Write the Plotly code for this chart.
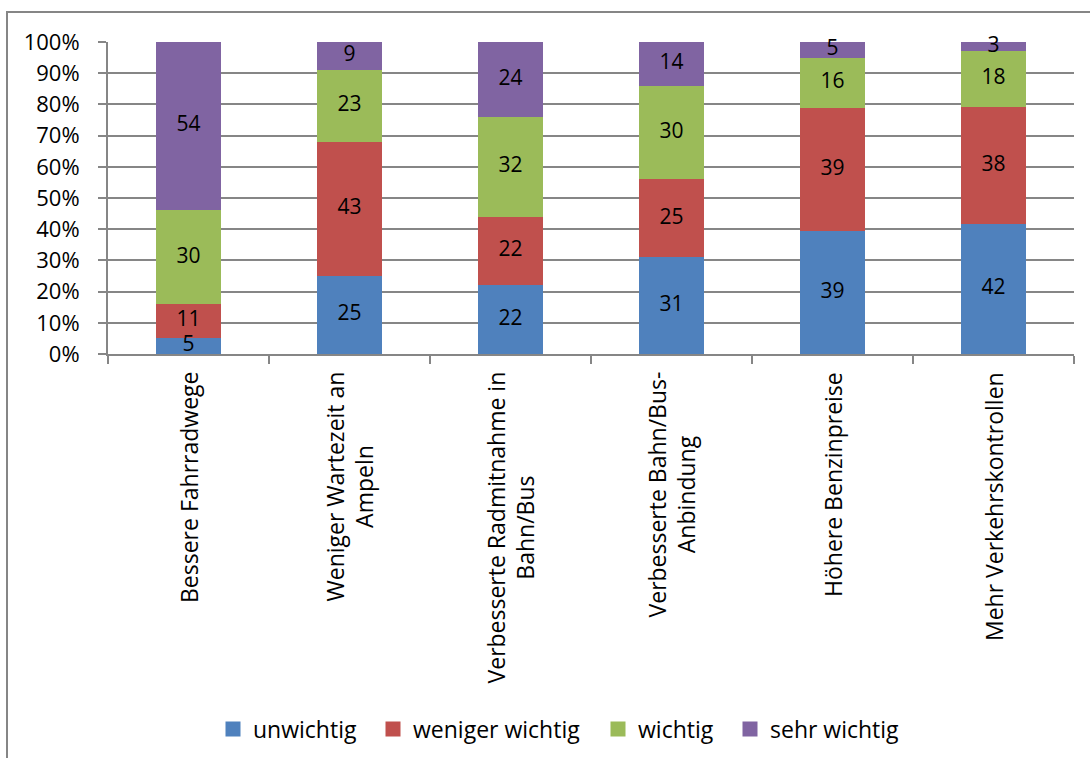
import plotly.graph_objects as go

# Survey: importance of measures for cycling (shares, stacked to 100 %)
categories = [
    "Bessere Fahrradwege",
    "Weniger Wartezeit an Ampeln",
    "Verbesserte Radmitnahme in Bahn/Bus",
    "Verbesserte Bahn/Bus-Anbindung",
    "Höhere Benzinpreise",
    "Mehr Verkehrskontrollen",
]
category_labels = [
    "Bessere Fahrradwege",
    "Weniger Wartezeit an<br>Ampeln",
    "Verbesserte Radmitnahme in<br>Bahn/Bus",
    "Verbesserte Bahn/Bus-<br>Anbindung",
    "Höhere Benzinpreise",
    "Mehr Verkehrskontrollen",
]
unwichtig = [5, 25, 22, 31, 39, 42]
weniger_wichtig = [11, 43, 22, 25, 39, 38]
wichtig = [30, 23, 32, 30, 16, 18]
sehr_wichtig = [54, 9, 24, 14, 5, 3]

y_ticks = [0, 10, 20, 30, 40, 50, 60, 70, 80, 90, 100]
y_tick_labels = [f"{v}%" for v in y_ticks]

series = [
    ("unwichtig", unwichtig, "#4F81BD"),
    ("weniger wichtig", weniger_wichtig, "#C0504D"),
    ("wichtig", wichtig, "#9BBB59"),
    ("sehr wichtig", sehr_wichtig, "#8064A2"),
]

FONT = "'Open Sans', 'Noto Sans', sans-serif"
GRAY = "#868686"

W, H = 1090, 758
L, R, T, B = 108, 16, 42, 404
pw, ph = W - L - R, H - T - B

fig = go.Figure()

# Stacked columns, normalised to 100 %
for name, vals, color in series:
    fig.add_trace(go.Bar(
        x=categories, y=vals, name=name,
        marker=dict(color=color, line=dict(width=0)),
        showlegend=False, hoverinfo="x+y+name",
    ))

# Segment value labels, centred in each normalised segment
totals = [sum(s[1][i] for s in series) for i in range(len(categories))]
base = [0.0] * len(categories)
for name, vals, color in series:
    mids = []
    for i, v in enumerate(vals):
        mids.append((base[i] + v / 2) / totals[i] * 100)
        base[i] += v
    fig.add_trace(go.Scatter(
        x=categories, y=mids, mode="text",
        text=[str(v) for v in vals],
        textposition="middle center",
        textfont=dict(family=FONT, size=21, color="#000000"),
        showlegend=False, hoverinfo="skip", cliponaxis=False,
    ))

# Legend row: one single-entry legend per series, placed along the bottom
legend_left_px = [213, 373, 598, 730]
legend_ids = ["legend", "legend2", "legend3", "legend4"]
legend_y = -(729 - (T + ph)) / ph
for (name, vals, color), lid, lx in zip(series, legend_ids, legend_left_px):
    fig.add_trace(go.Scatter(
        x=[None], y=[None], mode="markers", name=name,
        marker=dict(symbol="square", size=15, color=color),
        showlegend=True, legend=lid,
    ))
    fig.update_layout({lid: dict(
        orientation="h",
        x=(lx - L) / pw, xanchor="left",
        y=legend_y, yanchor="middle",
        font=dict(family=FONT, size=23),
        itemwidth=30,
        itemsizing="trace",
        bgcolor="rgba(0,0,0,0)",
    )})

fig.update_layout(
    width=W, height=H,
    barmode="stack",
    barnorm="percent",
    bargap=0.6,
    margin=dict(l=L, r=R, t=T, b=B, pad=0, autoexpand=False),
    paper_bgcolor="white",
    plot_bgcolor="white",
    font=dict(family=FONT, size=23, color="#000000"),
    showlegend=True,
    xaxis=dict(
        showticklabels=False,
        showline=True, linecolor=GRAY, linewidth=2,
        ticks="outside", ticklen=8, tickcolor=GRAY, tickwidth=2,
        tickson="boundaries",
        showgrid=False,
    ),
    yaxis=dict(
        range=[0, 100],
        tickvals=y_ticks, ticktext=y_tick_labels,
        showline=True, linecolor=GRAY, linewidth=2,
        ticks="outside", ticklen=8, tickcolor=GRAY, tickwidth=2,
        showgrid=True, gridcolor=GRAY, gridwidth=2,
        tickfont=dict(family=FONT, size=22),
        ticklabelstandoff=14,
        zeroline=False,
    ),
)

# Rotated, centred category labels below the axis
for cat, lab in zip(categories, category_labels):
    fig.add_annotation(
        x=cat, y=0, xref="x", yref="paper",
        text=lab, textangle=-90, align="center",
        xanchor="center", yanchor="top", yshift=-16,
        showarrow=False,
        font=dict(family=FONT, size=23, color="#000000"),
    )

# Chart-area frame
fig.add_shape(
    type="rect", xref="paper", yref="paper",
    x0=(7 - L) / pw, x1=(W + 10 - L) / pw,
    y0=-(H + 10 - T - ph) / ph, y1=1 + (T - 12) / ph,
    line=dict(color=GRAY, width=2), fillcolor="rgba(0,0,0,0)",
    layer="below",
)

fig.write_html("out.html")
